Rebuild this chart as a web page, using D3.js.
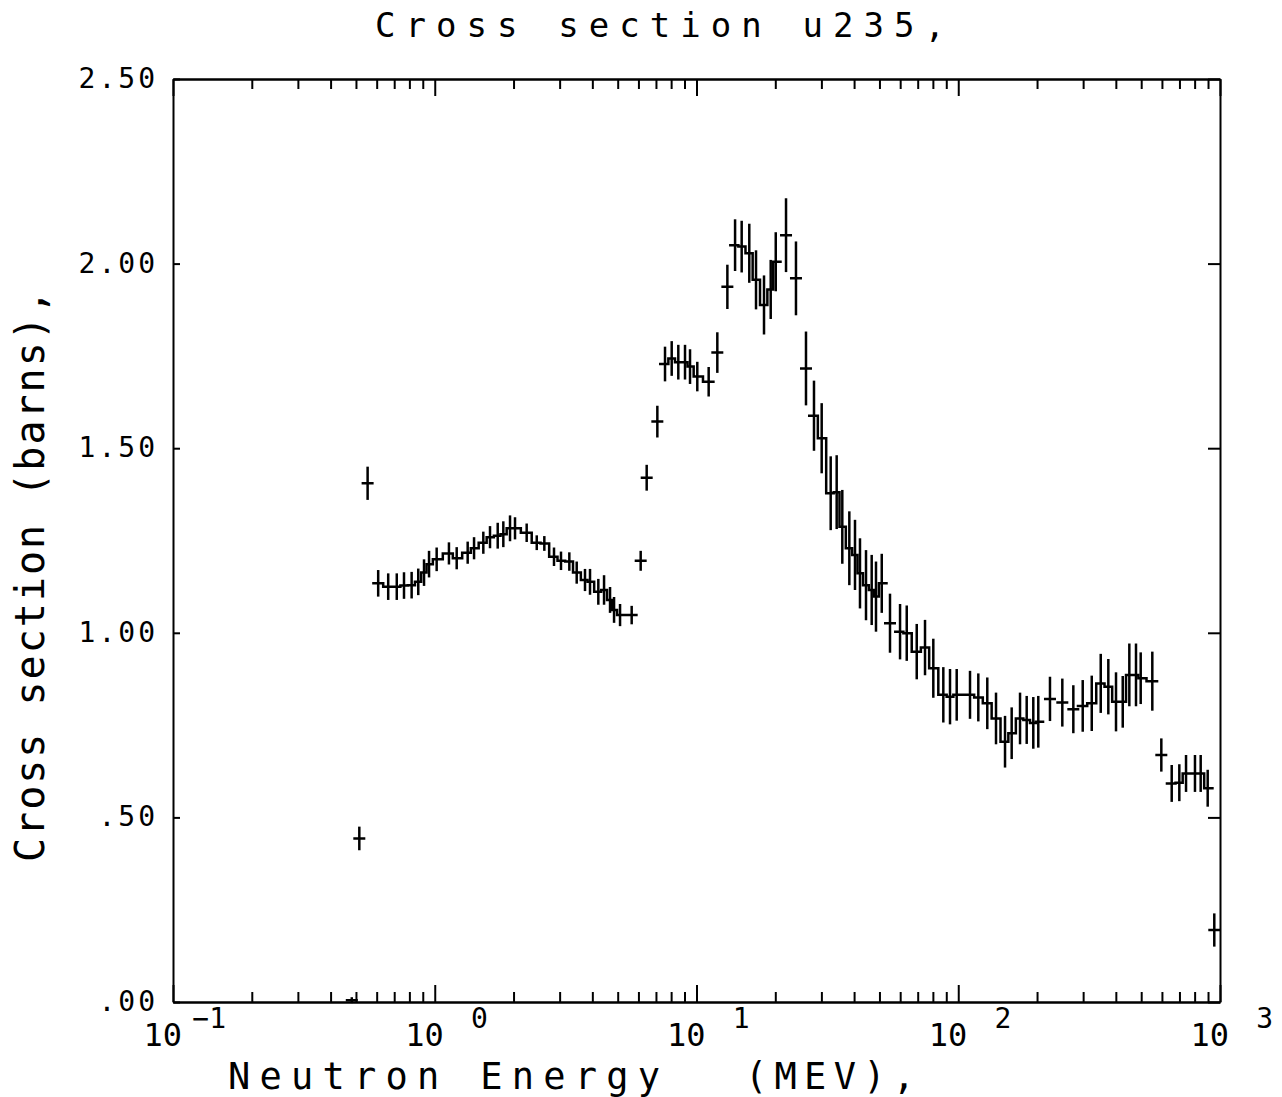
<!DOCTYPE html>
<html lang="en">
<head>
<meta charset="utf-8">
<style>
  body { margin: 0; background: #fff; }
  text { font-family: "DejaVu Sans Mono", monospace; fill: #000; }
</style>
</head>
<body>
<div id="chart"></div>
<script src="https://cdnjs.cloudflare.com/ajax/libs/d3/7.8.5/d3.min.js"></script>
<script>
var WIDTH = 1282, HEIGHT = 1097;

// bin centre energy (MeV)
var energy = [0.482, 0.515, 0.554,
  0.608, 0.664, 0.716, 0.763, 0.816, 0.865, 0.910, 0.951, 1.017, 1.133, 1.213, 1.336, 1.413, 1.533,
  1.626, 1.740, 1.828, 1.939, 2.026, 2.245, 2.453, 2.622, 2.855, 3.036, 3.267, 3.486, 3.750, 3.919,
  4.216, 4.434, 4.674, 4.842, 5.104, 5.654,
  6.120, 6.452, 7.086,
  7.581, 8.040, 8.521, 9.039, 9.446, 10.07, 11.13, 12.01, 13.12,
  14.04, 14.88, 15.91, 16.88, 18.11, 19.21, 20.08, 21.98, 23.99, 26.20,
  28.11, 30.08, 32.56, 34.32, 36.06, 38.36, 40.32, 42.13, 44.42, 46.70, 48.50, 51.02, 54.86,
  59.93, 63.56, 69.40, 74.65, 80.30, 87.69, 93.01, 98.65, 110.9, 119.3, 129.1, 139.4, 150.9,
  160.0, 172.2, 182.6, 193.5, 202.2, 224.1, 249.8, 275.2,
  298.9, 323.6, 350.2, 374.4, 400.6, 425.0, 450.4, 477.6, 497.8, 551.3, 596.8,
  653.9, 699.2, 741.7, 802.4, 843.7, 897.4, 951.0];

// cross section (barns)
var sigma = [0.005, 0.443, 1.405,
  1.134, 1.125, 1.125, 1.128, 1.129, 1.138, 1.163, 1.186, 1.199, 1.215, 1.202, 1.217, 1.229, 1.244,
  1.259, 1.263, 1.267, 1.283, 1.283, 1.271, 1.244, 1.242, 1.206, 1.195, 1.193, 1.163, 1.143, 1.138,
  1.111, 1.116, 1.089, 1.062, 1.048, 1.048,
  1.195, 1.420, 1.572,
  1.728, 1.743, 1.733, 1.733, 1.721, 1.694, 1.680, 1.759, 1.937,
  2.050, 2.046, 2.028, 1.956, 1.888, 1.930, 2.005, 2.077, 1.960, 1.716,
  1.588, 1.527, 1.378, 1.381, 1.287, 1.229, 1.211, 1.161, 1.129, 1.116, 1.098, 1.134, 1.026,
  1.003, 0.999, 0.949, 0.960, 0.904, 0.832, 0.827, 0.832, 0.832, 0.825, 0.809, 0.768, 0.705,
  0.728, 0.768, 0.764, 0.756, 0.759, 0.821, 0.811, 0.793,
  0.802, 0.809, 0.863, 0.854, 0.813, 0.813, 0.886, 0.886, 0.877, 0.869, 0.669,
  0.592, 0.594, 0.619, 0.619, 0.619, 0.579, 0.195];

// error (barns)
var sigmaErr = [0.008, 0.032, 0.045,
  0.036, 0.036, 0.036, 0.036, 0.036, 0.036, 0.036, 0.036, 0.032, 0.030, 0.030, 0.030, 0.030, 0.030,
  0.030, 0.035, 0.035, 0.035, 0.030, 0.025, 0.020, 0.020, 0.025, 0.025, 0.025, 0.030, 0.030, 0.035,
  0.035, 0.040, 0.035, 0.035, 0.030, 0.025,
  0.027, 0.035, 0.043,
  0.047, 0.047, 0.047, 0.047, 0.047, 0.040, 0.040, 0.055, 0.060,
  0.070, 0.070, 0.080, 0.080, 0.080, 0.080, 0.080, 0.100, 0.100, 0.100,
  0.095, 0.095, 0.100, 0.100, 0.100, 0.100, 0.095, 0.095, 0.095, 0.095, 0.095, 0.080, 0.080,
  0.075, 0.075, 0.075, 0.075, 0.080, 0.075, 0.075, 0.070, 0.065, 0.065, 0.070, 0.070, 0.070,
  0.070, 0.070, 0.065, 0.070, 0.070, 0.060, 0.065, 0.065,
  0.070, 0.075, 0.080, 0.075, 0.080, 0.070, 0.085, 0.085, 0.070, 0.080, 0.045,
  0.050, 0.050, 0.050, 0.050, 0.050, 0.050, 0.045];

// 1 = bin shares its lower edge with the previous bin (histogram step)
var joinPrev = [0, 0, 0,
  0, 1, 1, 1, 1, 1, 1, 1, 1, 1, 1, 1, 1, 1,
  1, 1, 1, 1, 1, 1, 1, 1, 1, 1, 1, 1, 1, 1,
  1, 1, 1, 1, 1, 1,
  0, 0, 0,
  0, 1, 1, 1, 1, 1, 1, 0, 0,
  0, 1, 1, 1, 1, 1, 1, 0, 0, 0,
  0, 1, 1, 1, 1, 1, 1, 1, 1, 1, 1, 1, 0,
  0, 1, 1, 1, 1, 1, 1, 1, 1, 1, 1, 1, 1,
  1, 1, 1, 1, 1, 0, 0, 0,
  0, 1, 1, 1, 1, 1, 1, 1, 1, 1, 0,
  0, 1, 1, 1, 1, 1, 0];

var yTicks = [0, 0.5, 1.0, 1.5, 2.0, 2.5];
var yTickLabels = [".00", ".50", "1.00", "1.50", "2.00", "2.50"];
var decades = [0.1, 1, 10, 100, 1000];
var decadeExp = ["\u22121", "0", "1", "2", "3"];

var svg = d3.select("#chart").append("svg")
  .attr("width", WIDTH).attr("height", HEIGHT)
  .style("background", "#fff");

var x = d3.scaleLog().domain([0.1, 1000]).range([173, 1220]);
var y = d3.scaleLinear().domain([0, 2.5]).range([1002, 79]);

// minor ticks 2..9 inside each decade
var minor = [];
decades.slice(0, -1).forEach(function (d) {
  for (var k = 2; k <= 9; k++) minor.push(d * k);
});

function styleAxis(sel) {
  sel.selectAll(".domain").attr("stroke", "#000").attr("stroke-width", 2);
  sel.selectAll(".tick line").attr("stroke", "#000").attr("stroke-width", 2);
}

// bottom + top axes, ticks pointing inward
[["axisBottom", y(0)], ["axisTop", y(2.5)]].forEach(function (a) {
  svg.append("g").attr("transform", "translate(0," + a[1] + ")")
    .call(d3[a[0]](x).tickValues(minor).tickSizeInner(-10).tickSizeOuter(0).tickFormat(""))
    .call(styleAxis);
  svg.append("g").attr("transform", "translate(0," + a[1] + ")")
    .call(d3[a[0]](x).tickValues(decades).tickSizeInner(-17).tickSizeOuter(0).tickFormat(""))
    .call(styleAxis);
});

// left axis with labels
svg.append("g").attr("transform", "translate(" + x(0.1) + ",0)")
  .call(d3.axisLeft(y).tickValues(yTicks).tickSizeInner(-7).tickSizeOuter(0).tickPadding(15)
    .tickFormat(function (d, i) { return yTickLabels[i]; }))
  .call(styleAxis)
  .selectAll("text")
  .attr("dy", "0.3em")
  .style("font-family", "'DejaVu Sans Mono', monospace")
  .style("font-size", "28px")
  .style("letter-spacing", "3px");

// right axis
svg.append("g").attr("transform", "translate(" + x(1000) + ",0)")
  .call(d3.axisRight(y).tickValues(yTicks).tickSizeInner(-12).tickSizeOuter(0).tickFormat(""))
  .call(styleAxis);

// x decade labels: 10 with exponent
var dl = svg.append("g").selectAll("g").data(decades).join("g");
dl.append("text")
  .attr("x", function (d) { return x(d) + 9; })
  .attr("y", 1046)
  .attr("text-anchor", "end")
  .attr("font-size", 32)
  .text("10");
dl.append("text")
  .attr("x", function (d) { return x(d) + 53; })
  .attr("y", 1028)
  .attr("text-anchor", "end")
  .attr("font-size", 28)
  .text(function (d, i) { return decadeExp[i]; });

// data: histogram steps + error bars
var CAP = 6;
var pts = energy.map(function (e, i) {
  return { px: x(e), py: y(sigma[i]), lo: y(sigma[i] - sigmaErr[i]), hi: y(sigma[i] + sigmaErr[i]), join: joinPrev[i] === 1 };
});
pts.forEach(function (p, i) {
  p.left = p.join ? (pts[i - 1].px + p.px) / 2 : p.px - CAP;
  var n = pts[i + 1];
  p.right = (n && n.join) ? (p.px + n.px) / 2 : p.px + CAP;
});

var pathStr = "";
pts.forEach(function (p) {
  if (!p.join) pathStr += "M" + p.left + "," + p.py;
  else pathStr += "V" + p.py;
  pathStr += "H" + p.right;
});

var plot = svg.append("g");
plot.append("path")
  .attr("d", pathStr)
  .attr("fill", "none")
  .attr("stroke", "#000")
  .attr("stroke-width", 2.5);

plot.selectAll("line.err").data(pts).join("line")
  .attr("class", "err")
  .attr("x1", function (d) { return d.px; })
  .attr("x2", function (d) { return d.px; })
  .attr("y1", function (d) { return d.lo; })
  .attr("y2", function (d) { return d.hi; })
  .attr("stroke", "#000")
  .attr("stroke-width", 2.5);

// titles
svg.append("text")
  .attr("x", 375).attr("y", 37)
  .attr("font-size", 34)
  .attr("textLength", 570).attr("lengthAdjust", "spacing")
  .text("Cross section u235,");

svg.append("text")
  .attr("x", 228).attr("y", 1089)
  .attr("font-size", 37)
  .attr("textLength", 432).attr("lengthAdjust", "spacing")
  .text("Neutron Energy");
svg.append("text")
  .attr("x", 745).attr("y", 1089)
  .attr("font-size", 37)
  .attr("textLength", 170).attr("lengthAdjust", "spacing")
  .text("(MEV),");

svg.append("text")
  .attr("transform", "translate(44,862) rotate(-90)")
  .attr("font-size", 40)
  .attr("textLength", 572).attr("lengthAdjust", "spacing")
  .text("Cross section (barns),");
</script>
</body>
</html>
